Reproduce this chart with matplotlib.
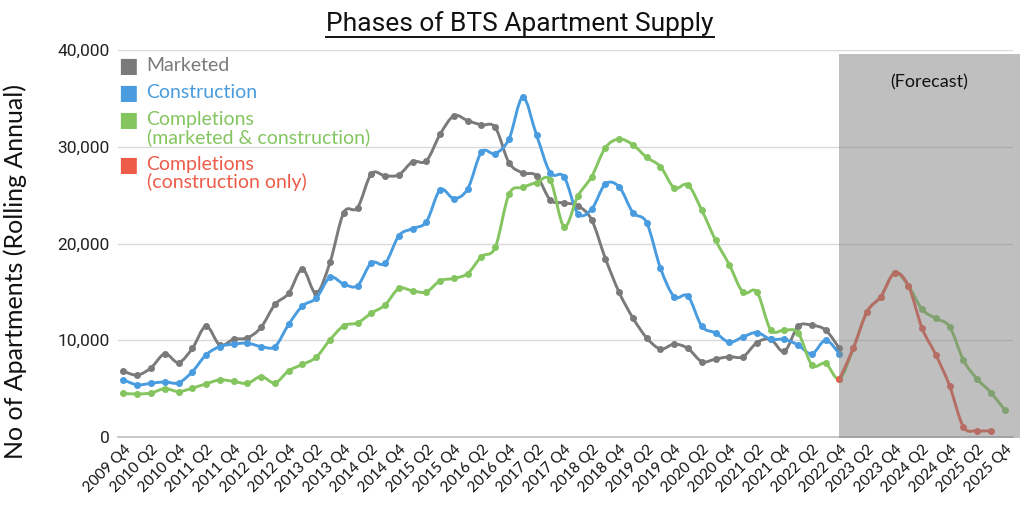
import matplotlib
matplotlib.use("Agg")
import matplotlib.pyplot as plt
import numpy as np
from matplotlib.path import Path
from matplotlib.patches import PathPatch, Rectangle
from matplotlib.lines import Line2D

gray  = "#7A7A7A"
blue  = "#489CDF"
green = "#84C560"
red   = "#EE5B49"

plt.rcParams["font.family"] = ["Lato", "DejaVu Sans"]
narrow = ["Liberation Sans Narrow", "Roboto", "DejaVu Sans"]

years = [2009] + [y for y in range(2010, 2026) for _ in range(4)]
qtrs = ["Q4"] + ["Q1", "Q2", "Q3", "Q4"] * 16
quarters = [f"{y} {q}" for y, q in zip(years, qtrs)]

marketed = [6800, 6400, 7150, 8600, 7700, 9150, 11450, 9500, 10100, 10250,
            11350, 13700, 14850, 17350, 14850, 18050, 23200, 23700, 27200, 27000,
            27100, 28450, 28550, 31300, 33200, 32700, 32250, 32000, 28350, 27300,
            27000, 24500, 24200, 23900, 22450, 18450, 14950, 12300, 10250, 9100,
            9600, 9150, 7800, 8050, 8300, 8300, 9750, 10100, 8850, 11450,
            11550, 11050, 9150]

construction = [5900, 5400, 5550, 5700, 5600, 6750, 8500, 9350, 9600, 9700,
                9350, 9350, 11650, 13550, 14350, 16500, 15800, 15650, 18000, 17950,
                20800, 21550, 22250, 25550, 24650, 25650, 29450, 29300, 30800, 35100,
                31200, 27300, 26900, 23100, 23550, 26150, 25850, 23200, 22150, 17450,
                14500, 14550, 11450, 10750, 9800, 10350, 10800, 10100, 10100, 9500,
                8600, 10000, 8600]

completions_mc = [4500, 4450, 4550, 5000, 4700, 5050, 5500, 5900, 5750, 5550,
                  6250, 5600, 6850, 7500, 8250, 10050, 11500, 11800, 12800, 13650,
                  15350, 15100, 15000, 16150, 16400, 16900, 18650, 19600, 25100, 25800,
                  26300, 26550, 21750, 24900, 26900, 29900, 30800, 30200, 28900, 27950,
                  25750, 26050, 23450, 20350, 17800, 14950, 15000, 11100, 11050, 10750,
                  7450, 7600, 6000, 9150, 12950, 14500, 16950, 15650, 13200, 12250,
                  11400, 7950, 6000, 4600, 2800]

# starts at 2022 Q4
completions_co = [6000, 9150, 12950, 14500, 16950, 15650, 11250, 8500, 5300, 1050,
                  650, 650]

forecast_start = "2022 Q4"


def smooth_path(x, y):
    # excel style smoothed line: catmull-rom -> cubic bezier
    verts = [(x[0], y[0])]
    codes = [Path.MOVETO]
    n = len(x)
    for i in range(n - 1):
        a = max(i - 1, 0)
        d = min(i + 2, n - 1)
        c1 = (x[i] + (x[i + 1] - x[a]) / 6, y[i] + (y[i + 1] - y[a]) / 6)
        c2 = (x[i + 1] - (x[d] - x[i]) / 6, y[i + 1] - (y[d] - y[i]) / 6)
        verts += [c1, c2, (x[i + 1], y[i + 1])]
        codes += [Path.CURVE4] * 3
    return Path(verts, codes)


def draw_series(ax, start, values, color, z):
    x = np.arange(start, start + len(values))
    y = np.array(values, dtype=float)
    ax.add_patch(PathPatch(smooth_path(x, y), facecolor="none", edgecolor=color,
                           lw=2.1, zorder=z, capstyle="round", joinstyle="round"))
    ax.plot(x, y, "o", color=color, ms=4, zorder=z)


fig = plt.figure(figsize=(10.24, 5.23), dpi=100)
ax = fig.add_axes([0.1152, 0.1644, 0.8740, 0.7400])

fc = quarters.index(forecast_start)
draw_series(ax, 0, marketed, gray, 3)
draw_series(ax, 0, construction, blue, 4)
draw_series(ax, 0, completions_mc, green, 5)
draw_series(ax, fc, completions_co, red, 6)

ax.set_xlim(-0.4, len(quarters) - 0.4)
ax.set_ylim(0, 40000)

# forecast shading
ax.add_patch(Rectangle((fc, -100), len(quarters) + 0.1 - fc, 39700,
                       facecolor="#808080", alpha=0.5, edgecolor="none",
                       zorder=10, clip_on=False))
ax.text(fc + (len(quarters) + 0.1 - fc) / 2, 36700, "(Forecast)", ha="center",
        va="center", fontsize=13, color="#111111", zorder=11)

ax.set_yticks(np.arange(0, 40001, 10000))
ax.set_yticklabels([f"{v:,}" for v in range(0, 40001, 10000)],
                   family=narrow, fontsize=12.5, color="#222222")
ax.set_xticks(range(0, len(quarters), 2))
ax.set_xticklabels(quarters[::2], rotation=45, ha="right", rotation_mode="anchor",
                   fontsize=11, color="#111111")
ax.tick_params(length=0, pad=6)
ax.tick_params(axis="x", pad=4)
ax.grid(axis="y", color="#D9D9D9", lw=1)
ax.set_axisbelow(True)
for s in ["top", "right", "left"]:
    ax.spines[s].set_visible(False)
ax.spines["bottom"].set_color("#BFBFBF")
ax.spines["bottom"].set_linewidth(1.2)

fig.text(0.015, 0.48, "No of Apartments (Rolling Annual)", rotation=90,
         ha="center", va="center", fontsize=18, color="#111111")

title = fig.text(0.508, 0.94, "Phases of BTS Apartment Supply", ha="center",
                 va="baseline", fontsize=19, family=narrow, color="#111111")

# legend: square on the first line, each text line placed on its own
legend = [(["Marketed"], gray, [0.963]),
          (["Construction"], blue, [0.894]),
          (["Completions", "(marketed & construction)"], green, [0.825, 0.779]),
          (["Completions", "(construction only)"], red, [0.709, 0.662])]
for lines, c, ys in legend:
    ax.text(0.0115, ys[0], "\u25A0", color=c, fontsize=15, ha="center",
            va="center_baseline", transform=ax.transAxes, family="DejaVu Sans")
    for line, yy in zip(lines, ys):
        ax.text(0.032, yy, line, color=c, fontsize=14, ha="left",
                va="center_baseline", transform=ax.transAxes)

# underline the title
fig.canvas.draw()
bb = title.get_window_extent()
W, H = fig.bbox.width, fig.bbox.height
fig.add_artist(Line2D([bb.x0 / W, bb.x1 / W], [(bb.y0 - 1) / H] * 2,
                      transform=fig.transFigure, color="#111111", lw=1.4))

fig.savefig("out.png", dpi=100)
